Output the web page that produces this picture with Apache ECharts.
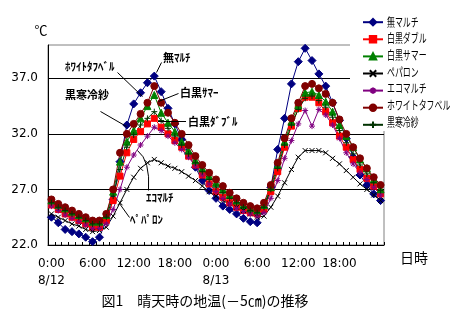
<!DOCTYPE html>
<html>
<head>
<meta charset="utf-8">
<script src="https://cdn.jsdelivr.net/npm/echarts@6/dist/echarts.min.js"></script>
<style>
  html, body { margin: 0; padding: 0; background: #fff; }
  #chart { width: 458px; height: 330px; }
</style>
</head>
<body>
<div id="chart"></div>
<script>
// Hourly soil temperature at -5 cm, 8/12 0:00 through 8/14 0:00 (49 readings)
const days = ['8/12', '8/13', '8/14'];
const categories = [];
for (let i = 0; i <= 48; i++) {
  categories.push(days[Math.floor(i / 24)] + ' ' + (i % 24) + ':00');
}

// x tick labels shown every 6 hours
const tickLabels = {
  0: '0:00\n8/12', 6: '6:00', 12: '12:00', 18: '18:00',
  24: '0:00\n8/13', 30: '6:00', 36: '12:00', 42: '18:00'
};

const seriesNames = ['無マルチ', '白黒ダブル', '白黒サマー', 'ペパロン', 'エコマルチ', 'ホワイトタフベル', '黒寒冷紗'];

const noMulch = [24.5, 24.0, 23.4, 23.2, 23.0, 22.7, 22.3, 22.7, 24.2, 26.1, 29.5, 32.8, 34.7, 35.7, 36.6, 37.2,
  35.8, 34.3, 32.9, 31.5, 30.2, 29.0, 27.8, 26.9, 26.2, 25.5, 25.2, 24.8, 24.4, 24.1, 24.0, 25.3,
  27.2, 30.6, 33.4, 36.5, 38.5, 39.7, 38.6, 37.4, 36.3, 34.8, 33.2, 31.6, 29.9, 28.3, 27.4, 26.6, 26.0];
const bwDouble = [25.6, 25.2, 24.8, 24.5, 24.2, 23.9, 23.6, 23.6, 24.2, 26.0, 28.2, 30.3, 31.5, 32.2, 32.9, 33.4,
  32.6, 32.0, 31.4, 30.8, 30.0, 29.2, 28.3, 27.5, 26.8, 26.3, 25.8, 25.4, 25.1, 24.9, 24.8, 25.2,
  26.8, 28.6, 30.8, 32.7, 34.3, 35.3, 35.3, 34.8, 34.0, 33.0, 31.8, 30.8, 29.7, 28.8, 28.0, 27.3, 26.6];
const bwSummer = [26.0, 25.6, 25.3, 25.0, 24.7, 24.4, 24.1, 24.1, 24.7, 26.8, 29.5, 31.3, 32.3, 33.4, 34.5, 35.5,
  33.9, 33.0, 32.2, 31.3, 30.5, 29.6, 28.9, 28.2, 27.6, 27.0, 26.5, 26.0, 25.6, 25.3, 25.1, 25.6,
  27.2, 29.2, 31.3, 33.1, 34.6, 35.7, 35.8, 35.5, 34.9, 34.0, 32.8, 31.8, 30.8, 29.7, 28.9, 27.9, 27.0];
const peparon = [24.8, 24.5, 24.2, 23.9, 23.7, 23.4, 23.2, 23.3, 23.6, 24.6, 25.8, 27.0, 28.1, 28.9, 29.4, 29.7,
  29.4, 29.1, 28.9, 28.6, 28.2, 27.8, 27.3, 26.8, 26.4, 26.0, 25.7, 25.4, 25.1, 24.8, 24.5, 24.6,
  25.4, 26.4, 27.6, 28.8, 29.9, 30.5, 30.5, 30.5, 30.3, 29.8, 29.3, 28.7, 28.1, 27.5, 27.0, 26.5, 26.0];
const ecoMulch = [25.5, 25.1, 24.7, 24.4, 24.1, 23.8, 23.5, 23.5, 23.9, 25.2, 27.0, 29.0, 30.1, 31.0, 31.8, 32.6,
  32.3, 31.8, 31.2, 30.6, 29.9, 29.1, 28.3, 27.5, 26.8, 26.2, 25.7, 25.3, 25.0, 24.8, 24.6, 24.9,
  26.2, 27.8, 29.8, 31.4, 32.9, 34.1, 32.7, 34.2, 33.7, 32.8, 31.6, 30.3, 29.3, 28.5, 27.9, 27.2, 26.5];
const whiteTough = [26.1, 25.7, 25.4, 25.1, 24.8, 24.5, 24.2, 24.2, 24.8, 27.0, 30.3, 32.0, 32.9, 33.8, 34.8, 36.3,
  34.8, 33.9, 33.0, 32.0, 31.0, 30.0, 29.2, 28.5, 27.9, 27.3, 26.7, 26.2, 25.8, 25.5, 25.3, 25.8,
  27.4, 29.4, 31.6, 33.4, 34.8, 36.3, 36.5, 36.1, 35.6, 34.8, 33.3, 32.0, 30.8, 29.8, 28.9, 28.1, 27.4];
const blackCheesecloth = [25.8, 25.4, 25.1, 24.8, 24.5, 24.2, 23.9, 23.9, 24.5, 26.4, 28.8, 30.8, 31.9, 32.8, 33.4, 34.0,
  33.2, 32.5, 31.8, 31.0, 30.2, 29.4, 28.6, 27.9, 27.2, 26.7, 26.2, 25.8, 25.4, 25.1, 24.9, 25.4,
  27.0, 28.9, 31.0, 32.8, 34.2, 35.2, 35.4, 35.0, 34.4, 33.5, 32.3, 31.2, 30.2, 29.2, 28.4, 27.6, 26.9];

const yTicks = { min: 22, max: 40, step: 5 };

const crossPath = 'path://M0,0L10,10M10,0L0,10';
const starPath = 'path://M5,0L5,10M0,5L10,5M1.5,1.5L8.5,8.5M8.5,1.5L1.5,8.5';
const plusPath = 'path://M5,0L5,10M0,5L10,5';

function lineSeries(name, data, color, symbol, size, filled) {
  return {
    name: name,
    type: 'line',
    data: data,
    symbol: symbol,
    symbolSize: size,
    showAllSymbol: true,
    lineStyle: { color: color, width: 1 },
    itemStyle: filled
      ? { color: color, borderColor: color, borderWidth: 1 }
      : { color: 'transparent', borderColor: color, borderWidth: 1 },
    emphasis: { disabled: true },
    animation: false
  };
}

const chart = echarts.init(document.getElementById('chart'), null, { renderer: 'canvas' });

const txt = (text, x, y, font, align) => ({
  type: 'text', z: 100,
  style: { text: text, x: x, y: y, font: font, fill: '#000', align: align || 'left', verticalAlign: 'middle' }
});
const seg = (x1, y1, x2, y2) => ({
  type: 'line', z: 100,
  shape: { x1: x1, y1: y1, x2: x2, y2: y2 },
  style: { stroke: '#000', lineWidth: 1 }
});

const noteFont = 'bold 11px "Noto Sans CJK JP"';

// legend rows: icons come from the legend component, names are set in a condensed face
const legendTop = 18, legendRow = 16.7, legendTextX = 387;
const legendLabels = seriesNames.map((name, i) => ({
  type: 'text', z: 100,
  x: legendTextX, y: legendTop + 4 + legendRow * i,
  scaleX: 0.66,
  style: { text: name, x: 0, y: 0, font: '12px "Noto Sans CJK JP"', fill: '#000', align: 'left', verticalAlign: 'middle' }
}));

chart.setOption({
  animation: false,
  backgroundColor: '#fff',
  grid: { left: 48, right: 74, top: 45, bottom: 85, show: true, borderColor: '#808080', borderWidth: 1, backgroundColor: 'transparent' },
  legend: {
    orient: 'vertical',
    left: 362, top: legendTop,
    padding: 0,
    itemWidth: 20, itemHeight: 8, itemGap: legendRow - 8,
    data: seriesNames,
    formatter: () => '',
    textStyle: { fontSize: 8, lineHeight: 8, padding: 0 },
    selectedMode: false
  },
  xAxis: {
    type: 'category',
    data: categories,
    boundaryGap: true,
    axisLine: { lineStyle: { color: '#000', width: 1 } },
    axisTick: { show: true, inside: true, length: 3, interval: 0, lineStyle: { color: '#000' } },
    axisLabel: {
      interval: (i) => tickLabels[i] !== undefined,
      formatter: (v, i) => tickLabels[i] || '',
      fontFamily: '"DejaVu Sans"', fontSize: 12, color: '#000',
      lineHeight: 17, margin: 10
    },
    splitLine: { show: false }
  },
  yAxis: {
    type: 'value',
    min: yTicks.min, max: yTicks.max, interval: yTicks.step,
    axisLine: { show: true, lineStyle: { color: '#000', width: 1 } },
    axisTick: { show: false },
    axisLabel: {
      formatter: (v) => v.toFixed(1),
      showMaxLabel: false,
      fontFamily: '"DejaVu Sans"', fontSize: 12, color: '#000', margin: 10
    },
    splitLine: { show: true, showMaxLine: false, lineStyle: { color: '#000', width: 1 } }
  },
  series: [
    lineSeries(seriesNames[0], noMulch, '#000080', 'diamond', 8, true),
    lineSeries(seriesNames[1], bwDouble, '#FF0000', 'rect', 6, true),
    lineSeries(seriesNames[2], bwSummer, '#008000', 'triangle', 7, true),
    lineSeries(seriesNames[3], peparon, '#000000', crossPath, 5, false),
    lineSeries(seriesNames[4], ecoMulch, '#800080', starPath, 6, false),
    lineSeries(seriesNames[5], whiteTough, '#800000', 'circle', 7, true),
    lineSeries(seriesNames[6], blackCheesecloth, '#003300', plusPath, 6, false)
  ],
  graphic: [
    // white panel behind the legend, over the plot's upper-right corner
    { type: 'rect', z: 3, shape: { x: 350, y: 0, width: 108, height: 131 }, style: { fill: '#fff' } },
    txt('℃', 41, 30, '13px "Noto Sans CJK JP"', 'center'),
    txt('日時', 414, 258, '14px "Noto Sans CJK JP"', 'center'),
    txt('図1　晴天時の地温(－5㎝)の推移', 205, 301, '14px "Noto Sans CJK JP"', 'center'),
    // series callouts
    txt('ﾎﾜｲﾄﾀﾌﾍﾞﾙ', 65, 67, noteFont),
    seg(117.5, 72.5, 142.5, 96.5),
    txt('黒寒冷紗', 65, 95, noteFont),
    seg(100.5, 111.5, 126.5, 126.5),
    txt('無ﾏﾙﾁ', 163, 58, noteFont),
    seg(161.5, 62.5, 156.5, 72.5),
    txt('白黒ｻﾏｰ', 180, 93, noteFont),
    seg(178.5, 93.5, 158.5, 101.5),
    txt('白黒ﾀﾞﾌﾞﾙ', 188, 122, noteFont),
    seg(158, 121.5, 186, 121.5),
    txt('ｴｺﾏﾙﾁ', 146, 198, noteFont),
    {
      type: 'bezierCurve', z: 100,
      shape: { x1: 148.5, y1: 190.5, cpx1: 150.5, cpy1: 160.5, x2: 137.5, y2: 150.5 },
      style: { stroke: '#000', lineWidth: 1, fill: 'none' }
    },
    txt('ﾍﾟﾊﾟﾛﾝ', 130, 220, noteFont),
    seg(129.5, 217.5, 119.5, 203.5)
  ].concat(legendLabels)
});
</script>
</body>
</html>
